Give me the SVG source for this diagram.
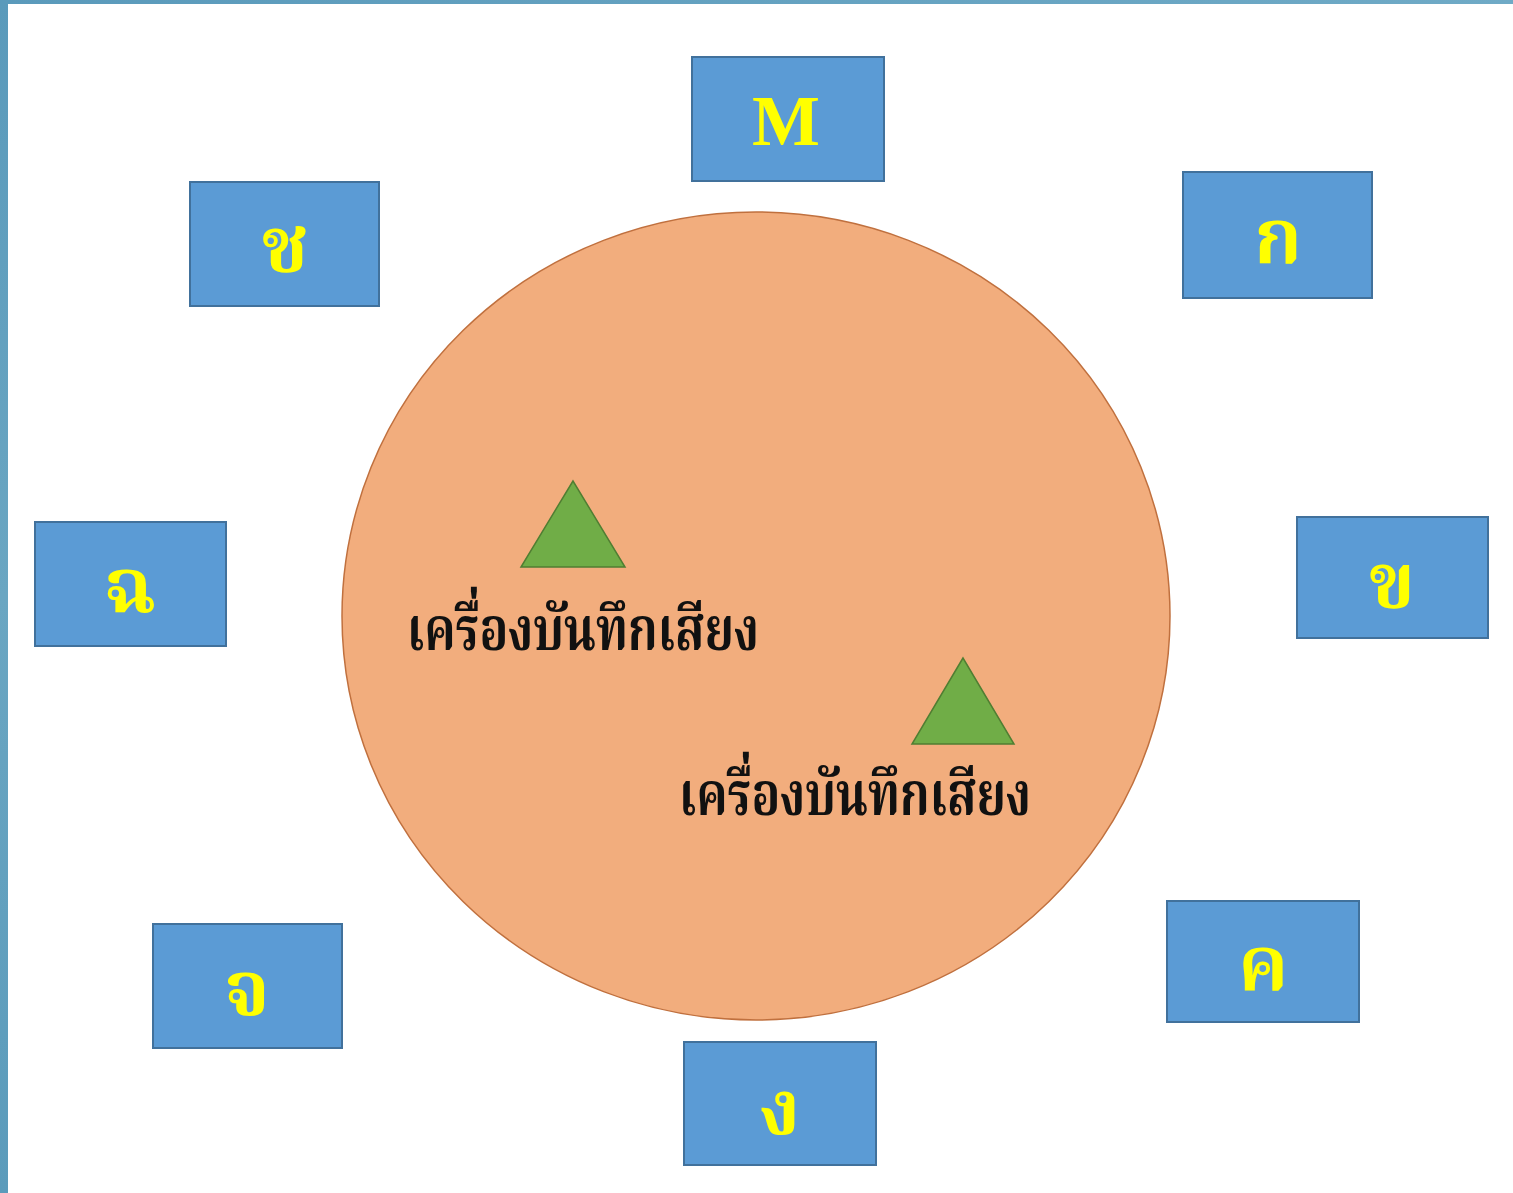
<svg xmlns="http://www.w3.org/2000/svg" width="1513" height="1193" viewBox="0 0 1513 1193">
<defs>
<linearGradient id="topg" x1="0" y1="0" x2="1" y2="0">
<stop offset="0" stop-color="#5a9abb"/>
<stop offset="1" stop-color="#6faac6"/>
</linearGradient>
<linearGradient id="leftg" x1="0" y1="0" x2="0" y2="1">
<stop offset="0" stop-color="#5a9abb"/>
<stop offset="0.5" stop-color="#6aa6c2"/>
<stop offset="1" stop-color="#5b9bbb"/>
</linearGradient>
</defs>
<style>
.box{fill:#5b9bd5;stroke:#41719c;stroke-width:2}
.lbl{font-family:"Noto Serif Thai","Noto Sans Thai","Liberation Serif",serif;font-weight:bold;font-size:76px;fill:#ffff00;text-anchor:middle}
.tri{fill:#70ad47;stroke:#507e32;stroke-width:1.5}
.cap{font-family:"Noto Serif Thai","Noto Sans Thai","Liberation Serif",serif;font-weight:bold;font-size:60px;fill:#111}
</style>
<rect x="0" y="0" width="1513" height="1193" fill="#ffffff"/>
<rect x="0" y="0" width="1513" height="4" fill="url(#topg)"/>
<rect x="0" y="0" width="8" height="1193" fill="url(#leftg)"/>
<g id="center">
<ellipse cx="756" cy="616" rx="414" ry="404" fill="#f2ad7d" stroke="#c0703e" stroke-width="1.5"/>
</g>
<g id="rec1">
<polygon class="tri" points="573,481 521,567 625,567"/>
<text class="cap" x="407" y="650" textLength="352" lengthAdjust="spacingAndGlyphs">เครื่องบันทึกเสียง</text>
</g>
<g id="rec2">
<polygon class="tri" points="963,658 912,744 1014,744"/>
<text class="cap" x="679" y="815" textLength="352" lengthAdjust="spacingAndGlyphs">เครื่องบันทึกเสียง</text>
</g>
<g id="nM"><rect class="box" x="692" y="57" width="192" height="124"/><text class="lbl" x="786" y="145" style="font-family:'Liberation Serif',serif;font-size:72px">M</text></g>
<g id="nKo"><rect class="box" x="1183" y="172" width="189" height="126"/><text class="lbl" x="1278" y="263">ก</text></g>
<g id="nKho"><rect class="box" x="1297" y="517" width="191" height="121"/><text class="lbl" x="1392" y="607">ข</text></g>
<g id="nKho2"><rect class="box" x="1167" y="901" width="192" height="121"/><text class="lbl" x="1263" y="990">ค</text></g>
<g id="nNgo"><rect class="box" x="684" y="1042" width="192" height="123"/><text class="lbl" x="780" y="1134">ง</text></g>
<g id="nCho"><rect class="box" x="153" y="924" width="189" height="124"/><text class="lbl" x="247" y="1015">จ</text></g>
<g id="nChing"><rect class="box" x="35" y="522" width="191" height="124"/><text class="lbl" x="130" y="612">ฉ</text></g>
<g id="nChang"><rect class="box" x="190" y="182" width="189" height="124"/><text class="lbl" x="285" y="271">ช</text></g>
<g id="connectors"></g>
</svg>
